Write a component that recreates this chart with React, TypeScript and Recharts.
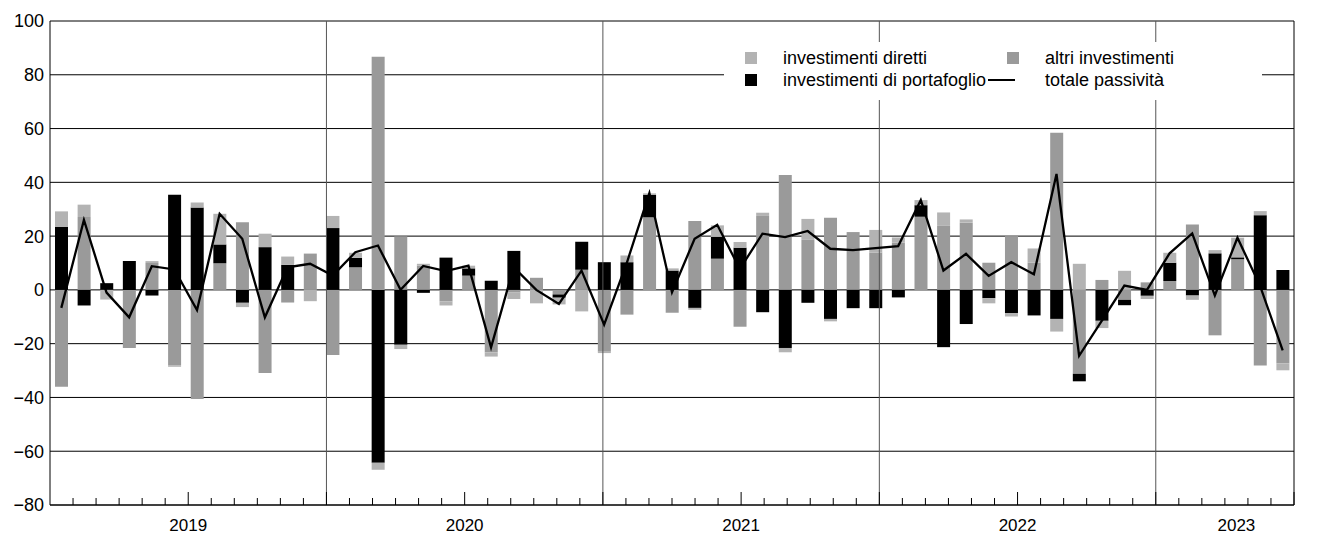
import React from 'react';
import { ComposedChart, Bar, Line, XAxis, YAxis, CartesianGrid, ReferenceLine } from 'recharts';

const years = ['2019', '2020', '2021', '2022', '2023'];
const monthNames = ['gen', 'feb', 'mar', 'apr', 'mag', 'giu', 'lug', 'ago', 'set', 'ott', 'nov', 'dic'];

// altri investimenti
const altri = [
  -36, 27.1, 0, -21.6, 10, -28, -40.6, 9.9, 25.2, -30.9, -4.7, 13.5,
  -24.2, 8.4, 86.7, 19.9, 9, -4.3, 5.3, -23.2, -1, 4.5, -1.7, 7.5,
  -23, -9.2, 27, -8.5, 25.6, 11.6, -13.7, 27.5, 42.7, 18.6, 26.8, 21.5,
  13.9, 17.6, 27.2, 23.8, 25, 10.1, 20, 10.1, 58.4, -31.2, 3.7, -3.7,
  2.8, 3.3, 24.3, -16.9, 11.4, -28.1, -27.4,
];
// investimenti di portafoglio
const portafoglio = [
  23.4, -5.8, 2.5, 10.7, -2.1, 35.4, 30.6, 7.0, -4.8, 15.9, 9.3, 0,
  23, 3.5, -64.3, -20.4, -1.1, 12, 2.7, 3.4, 14.5, 0, -1.2, 10.4,
  10.3, 10.3, 8.4, 7.2, -6.7, 8.1, 15.7, -8.3, -21.6, -4.8, -10.8, -6.8,
  -6.8, -2.8, 4.3, -21.3, -12.7, -3.1, -8.7, -9.5, -10.8, -2.8, -11.5, -2,
  -2.2, 6.8, -2.1, 13.6, 0.7, 27.8, 7.4,
];
// investimenti diretti
const diretti = [
  5.8, 4.6, -3.6, 0, 0.7, -0.6, 1.9, 11.4, -1.6, 5, 3.1, -4.2,
  4.5, 1.9, -2.6, -1.6, 0.7, -1.5, 1, -1.6, -2.4, -5, -2.5, -8,
  -0.5, 2.5, 0.5, 0.8, -0.7, 4.3, 2.1, 1.2, -1.6, 7.8, -0.9, 0,
  8.4, 1.9, 1.9, 5, 1.2, -1.9, -1.2, 5.3, -4.7, 9.7, -2.7, 7.1,
  -1.2, 3.7, -1.6, 1.2, 7.3, 1.5, -2.5,
];
// totale passività
const totale = [
  -6.7, 26, -1, -10.2, 8.8, 7.6, -7.5, 28.3, 19, -10.2, 8.4, 9.7,
  5.3, 14, 16.5, 0, 8.9, 7, 9, -21.4, 8.4, 0, -5.2, 7.2,
  -12.9, 10, 36, -0.9, 19, 24.2, 7.8, 20.9, 19.6, 21.9, 15.3, 14.8,
  15.5, 16.3, 33.4, 7.2, 13.4, 5.2, 10.3, 5.8, 43.1, -24.5, -11.5, 1.6,
  0, 13.6, 21, -2.1, 19.4, 1.5, -22.5,
];

const yTicks = [-80, -60, -40, -20, 0, 20, 40, 60, 80, 100];

const LIGHT = '#b3b3b3';
const MID = '#9a9a9a';
const FONT = '"Liberation Sans", Arial, Helvetica, sans-serif';

const categories = years.flatMap((y) => monthNames.map((m) => `${m} ${y}`)).slice(0, altri.length);

const data = categories.map((m, i) => ({
  m,
  altri: altri[i],
  portafoglio: portafoglio[i],
  diretti: diretti[i],
  totale: totale[i],
}));

const n = categories.length;
const monthTicks = Array.from({ length: n + 1 }, (_, i) => i);
const yearStarts = years.map((_, i) => i * 12).filter((v) => v > 0 && v < n);
const yearCenters = years.map((_, i) => (i * 12 + Math.min(i * 12 + 12, n)) / 2);
const xTicks = Array.from(new Set([...monthTicks, ...yearCenters])).sort((a, b) => a - b);

const fmt = (v: number) => (v < 0 ? '\u2212' + Math.abs(v) : String(v));

const XTick = (props: any) => {
  const { x, y, payload } = props;
  const v = payload.value as number;
  const els: any[] = [];
  if (Number.isInteger(v) && v > 0 && v < n) {
    const len = v % 6 === 0 ? 13 : 7;
    els.push(<line key="t" x1={x} x2={x} y1={y} y2={y - len} stroke="#000" strokeWidth={1} />);
  }
  const yi = yearCenters.indexOf(v);
  if (yi >= 0) {
    els.push(
      <text key="l" x={x} y={y + 26} textAnchor="middle" fontSize={17} fontFamily={FONT} fill="#000">
        {years[yi]}
      </text>
    );
  }
  return <g>{els}</g>;
};

const RightTick = (props: any) => {
  const { x, y, payload } = props;
  return (
    <text x={x} y={y} dy="0.36em" textAnchor="middle" fontSize={18} fontFamily={FONT} fill="#000">
      {fmt(payload.value)}
    </text>
  );
};

const LeftTick = (props: any) => {
  const { x, y, payload } = props;
  return (
    <text x={x} y={y} dy="0.36em" textAnchor="end" fontSize={18} fontFamily={FONT} fill="#000">
      {fmt(payload.value)}
    </text>
  );
};

const legendItems = [
  { label: 'investimenti diretti', color: LIGHT, kind: 'square', col: 0, row: 0 },
  { label: 'investimenti di portafoglio', color: '#000', kind: 'square', col: 0, row: 1 },
  { label: 'altri investimenti', color: MID, kind: 'square', col: 1, row: 0 },
  { label: 'totale passività', color: '#000', kind: 'line', col: 1, row: 1 },
];

const Legend = () => {
  const rowY = [16, 38];
  const markX = [21, 283];
  const textX = [59, 321];
  return (
    <div
      style={{
        position: 'absolute',
        left: 724,
        top: 42,
        width: 538,
        height: 58,
        background: '#fff',
        fontFamily: FONT,
        fontSize: 18,
        color: '#000',
      }}
    >
      {legendItems.map((it) => (
        <React.Fragment key={it.label}>
          {it.kind === 'square' ? (
            <div
              style={{
                position: 'absolute',
                left: markX[it.col],
                top: rowY[it.row] - 6,
                width: 12,
                height: 12,
                background: it.color,
              }}
            />
          ) : (
            <div
              style={{
                position: 'absolute',
                left: markX[it.col] - 19,
                top: rowY[it.row] - 1,
                width: 27,
                height: 2,
                background: it.color,
              }}
            />
          )}
          <div
            style={{
              position: 'absolute',
              left: textX[it.col],
              top: rowY[it.row] - 10,
              lineHeight: '20px',
              whiteSpace: 'nowrap',
            }}
          >
            {it.label}
          </div>
        </React.Fragment>
      ))}
    </div>
  );
};

export default function App() {
  return (
    <div style={{ position: 'relative', width: 1336, height: 535 }}>
      <style>{`body{margin:0;}`}</style>
      <ComposedChart
        width={1336}
        height={535}
        data={data}
        stackOffset="sign"
        barCategoryGap={0}
        margin={{ top: 21, right: 0, bottom: 0, left: 0 }}
      >
        <XAxis xAxisId="cat" dataKey="m" type="category" hide height={0} />
        <XAxis
          xAxisId="num"
          type="number"
          domain={[0, n]}
          ticks={xTicks}
          interval={0}
          allowDecimals
          height={30}
          tickSize={0}
          tickMargin={0}
          tickLine={false}
          axisLine={{ stroke: '#000', strokeWidth: 1 }}
          tick={<XTick />}
        />
        <YAxis
          yAxisId="left"
          domain={[-80, 100]}
          ticks={yTicks}
          width={50}
          tickSize={0}
          tickMargin={6}
          tickLine={false}
          axisLine={{ stroke: '#000', strokeWidth: 1 }}
          tick={<LeftTick />}
          interval={0}
        />
        <YAxis
          yAxisId="right"
          orientation="right"
          domain={[-80, 100]}
          ticks={yTicks}
          width={42}
          tickSize={0}
          tickMargin={20}
          tickLine={false}
          axisLine={{ stroke: '#000', strokeWidth: 1 }}
          tick={<RightTick />}
          interval={0}
        />
        <CartesianGrid yAxisId="left" xAxisId="num" vertical={false} stroke="#000" strokeWidth={1} />
        {yearStarts.map((v) => (
          <ReferenceLine key={v} xAxisId="num" yAxisId="left" x={v} stroke="#555" strokeWidth={1} />
        ))}
        <Bar xAxisId="cat" yAxisId="left" dataKey="altri" stackId="s" fill={MID} barSize={13} isAnimationActive={false} />
        <Bar xAxisId="cat" yAxisId="left" dataKey="portafoglio" stackId="s" fill="#000" barSize={13} isAnimationActive={false} />
        <Bar xAxisId="cat" yAxisId="left" dataKey="diretti" stackId="s" fill={LIGHT} barSize={13} isAnimationActive={false} />
        <Line
          xAxisId="cat"
          yAxisId="left"
          dataKey="totale"
          type="linear"
          stroke="#000"
          strokeWidth={2.3}
          dot={false}
          activeDot={false}
          isAnimationActive={false}
        />
      </ComposedChart>
      <Legend />
    </div>
  );
}
